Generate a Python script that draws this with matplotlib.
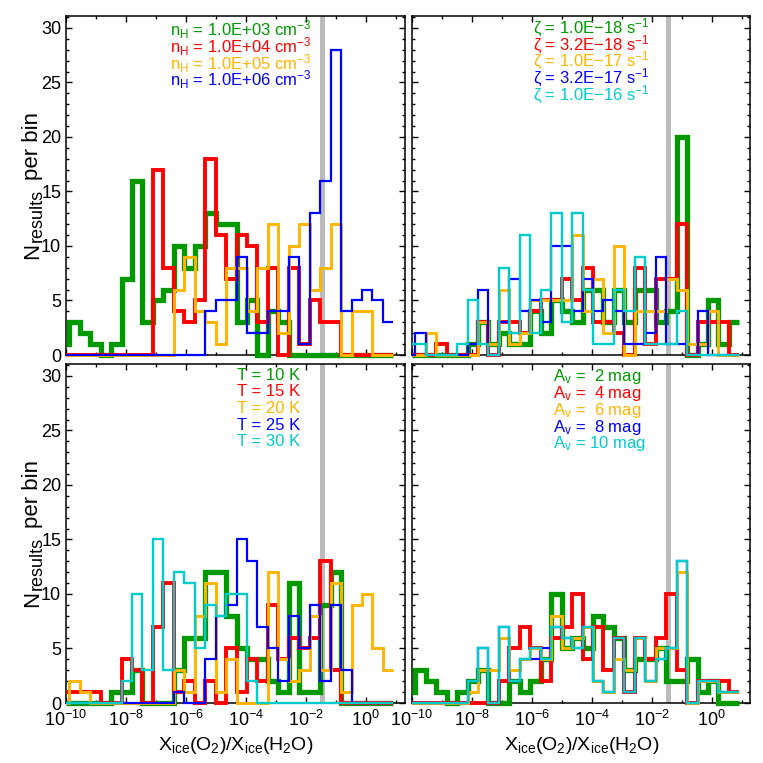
import numpy as np
import matplotlib
matplotlib.use('Agg')
import matplotlib.pyplot as plt
from matplotlib.ticker import NullFormatter, LogFormatterSciNotation
from matplotlib.transforms import IdentityTransform

# histogram bins in log10(X(O2)/X(H2O)), 32 bins
bin_lo = -10.24
bin_w = 0.349
o2_limit = 10 ** -1.47   # grey line

# panel 1 : density
nh_1e3 = [1, 3, 2, 1, 0, 1, 7, 16, 3, 5, 6, 10, 8, 10, 13, 12, 12, 3, 5, 0, 4, 3, 0, 0, 0, 0, 0, 0, 0, 0, 0, 0]
nh_1e4 = [0, 0, 0, 0, 0, 0, 0, 0, 0, 17, 8, 4, 3, 5, 18, 11, 7, 11, 10, 3, 8, 0, 8, 1, 5, 3, 3, 0, 0, 0, 0, 0]
nh_1e5 = [0, 0, 0, 0, 0, 0, 0, 0, 0, 0, 0, 6, 9, 4, 3, 1, 8, 8, 4, 8, 12, 2, 10, 12, 6, 8, 12, 0, 4, 4, 0, 0]
nh_1e6 = [0, 0, 0, 0, 0, 0, 0, 0, 0, 0, 0, 0, 0, 0, 4, 5, 5, 9, 2, 2, 4, 4, 9, 1, 13, 16, 28, 4, 5, 6, 5, 3]

# panel 2 : cosmic ray ionisation rate
zeta_1e18 = [0, 0, 0, 0, 0, 0, 1, 3, 1, 2, 1, 1, 4, 2, 5, 4, 3, 6, 6, 3, 6, 3, 6, 6, 3, 4, 20, 0, 1, 5, 1, 3]
zeta_3e18 = [0, 0, 0, 1, 0, 0, 0, 3, 0, 3, 3, 2, 4, 5, 5, 7, 5, 8, 3, 3, 2, 0, 8, 1, 7, 7, 12, 0, 3, 3, 3, 0]
zeta_1e17 = [0, 0, 2, 0, 0, 0, 0, 3, 1, 6, 1, 2, 5, 5, 5, 5, 11, 4, 7, 2, 10, 0, 4, 4, 4, 7, 6, 1, 1, 4, 0, 0]
zeta_3e17 = [0, 2, 0, 0, 0, 0, 1, 6, 0, 3, 7, 4, 5, 3, 10, 10, 4, 7, 4, 5, 4, 1, 1, 2, 9, 1, 1, 0, 4, 0, 0, 0]
zeta_1e16 = [1, 1, 0, 0, 0, 1, 5, 1, 0, 8, 2, 11, 2, 6, 13, 3, 13, 6, 1, 1, 6, 4, 9, 1, 1, 1, 4, 0, 0, 0, 0, 0]

# panel 3 : temperature
t_10 = [0, 0, 0, 0, 0, 1, 1, 3, 0, 0, 0, 3, 6, 6, 12, 12, 8, 5, 4, 4, 2, 1, 11, 1, 1, 9, 12, 0, 0, 0, 0, 0]
t_15 = [1, 1, 1, 1, 0, 0, 4, 3, 0, 7, 11, 1, 2, 0, 2, 0, 5, 1, 4, 2, 9, 4, 6, 5, 6, 13, 3, 0, 0, 0, 0, 0]
t_20 = [0, 2, 1, 0, 0, 0, 0, 0, 0, 0, 0, 3, 1, 8, 11, 1, 4, 0, 0, 0, 12, 4, 2, 3, 8, 3, 11, 1, 9, 10, 5, 3]
t_25 = [0, 0, 0, 0, 0, 0, 0, 0, 0, 0, 0, 1, 0, 0, 4, 8, 9, 15, 13, 7, 5, 2, 8, 5, 9, 2, 9, 3, 0, 0, 0, 0]
t_30 = [0, 0, 0, 0, 0, 0, 2, 10, 3, 15, 3, 12, 11, 5, 9, 8, 10, 10, 2, 0, 0, 0, 0, 0, 0, 0, 0, 0, 0, 0, 0, 0]

# panel 4 : visual extinction
av_2 = [1, 3, 2, 1, 0, 1, 2, 3, 0, 0, 2, 1, 2, 4, 10, 5, 6, 5, 8, 7, 6, 3, 4, 4, 5, 2, 2, 4, 1, 2, 0, 0]
av_4 = [0, 0, 0, 0, 0, 0, 0, 0, 0, 2, 5, 7, 5, 2, 6, 7, 10, 4, 7, 3, 6, 1, 6, 4, 6, 10, 3, 0, 2, 2, 2, 1]
av_6 = [0, 0, 0, 0, 0, 0, 1, 3, 3, 6, 3, 4, 5, 4, 8, 5, 6, 7, 2, 1, 4, 3, 6, 2, 5, 5, 12, 0, 2, 2, 1, 1]
av_8 = [0, 0, 0, 0, 0, 0, 2, 5, 0, 7, 2, 4, 4, 5, 7, 6, 5, 7, 2, 1, 6, 1, 6, 2, 4, 5, 13, 0, 2, 2, 1, 1]
av_10 = [0, 0, 0, 0, 0, 0, 2, 5, 0, 7, 2, 4, 5, 4, 7, 6, 5, 7, 2, 1, 6, 1, 6, 2, 4, 5, 13, 0, 2, 2, 1, 1]

nh_labels = [r'n$_{\rm H}$ = 1.0E+03 cm$^{-3}$', r'n$_{\rm H}$ = 1.0E+04 cm$^{-3}$',
             r'n$_{\rm H}$ = 1.0E+05 cm$^{-3}$', r'n$_{\rm H}$ = 1.0E+06 cm$^{-3}$']
zeta_labels = ['ζ = 1.0E\u221218 s$^{-1}$', 'ζ = 3.2E\u221218 s$^{-1}$', 'ζ = 1.0E\u221217 s$^{-1}$',
               'ζ = 3.2E\u221217 s$^{-1}$', 'ζ = 1.0E\u221216 s$^{-1}$']
t_labels = ['T = 10 K', 'T = 15 K', 'T = 20 K', 'T = 25 K', 'T = 30 K']
av_labels = [r'A$_{\rm v}$ =  2 mag', r'A$_{\rm v}$ =  4 mag', r'A$_{\rm v}$ =  6 mag',
             r'A$_{\rm v}$ =  8 mag', r'A$_{\rm v}$ = 10 mag']

colors = ['#009a00', '#ff0000', '#ffb400', '#0000ff', '#00cccc']
widths = [3.8, 2.8, 2.1, 1.6, 1.7]

plt.rcParams['font.family'] = ['Liberation Sans', 'DejaVu Sans']
plt.rcParams['mathtext.fontset'] = 'custom'
plt.rcParams['mathtext.rm'] = 'Liberation Sans'
plt.rcParams['mathtext.it'] = 'Liberation Sans:italic'

edges = 10 ** (bin_lo + bin_w * np.arange(33))
edges[0] = 1e-10

W = 763.0
panels = [
    ([nh_1e3, nh_1e4, nh_1e5, nh_1e6], nh_labels, (66, 16), (170, 30)),
    ([zeta_1e18, zeta_3e18, zeta_1e17, zeta_3e17, zeta_1e16], zeta_labels, (412, 16), (533, 28)),
    ([t_10, t_15, t_20, t_25, t_30], t_labels, (66, 364), (237, 375)),
    ([av_2, av_4, av_6, av_8, av_10], av_labels, (412, 364), (553, 377)),
]


def ylabel_idl(fig, ax, xb=38):
    # N_results per bin, built from pieces so the subscript stays big
    r = fig.canvas.get_renderer()
    bb = ax.get_window_extent(r)
    parts = [('N', 16, 0, 0), ('results', 13, 4, 1), ('per bin', 16, 0, 9)]
    texts, lens = [], []
    for s, fs, dx, gap in parts:
        t = fig.text(0, 0, s, fontsize=fs, rotation=90, rotation_mode='anchor',
                     ha='left', va='baseline', transform=IdentityTransform())
        texts.append(t)
        lens.append(t.get_window_extent(r).height)
    total = sum(lens) + sum(p[3] for p in parts)
    y = (bb.y0 + bb.y1) / 2 - total / 2
    for t, L, (s, fs, dx, gap) in zip(texts, lens, parts):
        y += gap
        t.set_position((xb + dx, y))
        y += L


fig = plt.figure(figsize=(7.63, 7.63), dpi=100)
for i, (series, labels, (px, py), (tx, ty)) in enumerate(panels):
    ax = fig.add_axes([px / W, 1 - (py + 339) / W, 338.5 / W, 339 / W])
    ax.axvline(o2_limit, color='#bbbbbb', lw=3.6, zorder=1)
    for j, vals in enumerate(series):
        ax.stairs(vals, edges, baseline=None, color=colors[j], lw=widths[j],
                  zorder=3 + j, clip_on=False)
    ax.set_xscale('log')
    ax.set_xlim(1e-10, 10 ** 1.3)
    ax.set_ylim(0, 31.1)
    ax.set_xticks([10.0 ** e for e in range(-10, 1, 2)])
    ax.set_xticks([10.0 ** e for e in range(-9, 2, 2)], minor=True)
    ax.set_yticks(range(0, 31, 5))
    ax.set_yticks(range(0, 32), minor=True)
    ax.xaxis.set_major_formatter(LogFormatterSciNotation())
    ax.xaxis.set_minor_formatter(NullFormatter())
    ax.tick_params(which='both', direction='in', top=True, right=True, width=1.0, labelsize=13)
    ax.tick_params(which='major', length=4.5)
    ax.tick_params(which='minor', length=2.3)
    ax.tick_params(axis='x', pad=5)
    for sp in ax.spines.values():
        sp.set_linewidth(1.1)
    if i < 2:
        ax.tick_params(axis='x', labelbottom=False)
    else:
        ax.set_xlabel(r'X$_{\rm ice}$(O$_2$)/X$_{\rm ice}$(H$_2$O)', fontsize=14)
        ax.xaxis.set_label_coords(0.5, -0.095)
    if i % 2 == 1:
        ax.tick_params(axis='y', labelleft=False)
    else:
        ylabel_idl(fig, ax)
    for j, lab in enumerate(labels):
        fig.text(tx / W, 1 - (ty + 16.7 * j) / W, lab, color=colors[j],
                 fontsize=12, ha='left', va='center')

fig.savefig('out.png', dpi=100)
